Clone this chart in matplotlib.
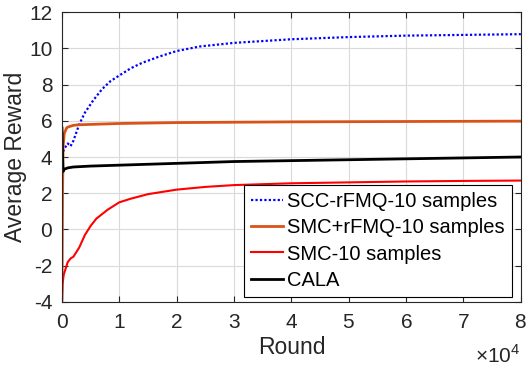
import matplotlib
matplotlib.use("Agg")
import matplotlib.pyplot as plt
from matplotlib.ticker import ScalarFormatter

plt.rcParams['font.family'] = ['Liberation Sans', 'DejaVu Sans']
plt.rcParams['mathtext.fontset'] = 'custom'
plt.rcParams['mathtext.rm'] = 'Liberation Sans'
plt.rcParams['axes.unicode_minus'] = False

# ---- data (rounds, average reward) ----
scc_x = [200, 500, 1000, 1500, 2000, 3000, 4000, 5500, 7000, 8500, 10000, 12000, 14000,
         17000, 20000, 24000, 30000, 35000, 40000, 50000, 60000, 70000, 80000]
scc_y = [4.3, 4.5, 4.75, 4.6, 4.9, 5.8, 6.45, 7.15, 7.75, 8.2, 8.5, 8.9, 9.2,
         9.55, 9.85, 10.1, 10.3, 10.4, 10.5, 10.62, 10.7, 10.74, 10.78]

smcr_x = [0, 50, 100, 200, 400, 800, 1000, 1500, 2000, 3000, 5000, 10000, 20000,
          30000, 40000, 50000, 60000, 70000, 80000]
smcr_y = [-3.9, -1.0, 2.0, 4.6, 5.3, 5.6, 5.65, 5.7, 5.75, 5.78, 5.8, 5.85, 5.9,
          5.92, 5.94, 5.95, 5.96, 5.97, 5.98]

smc_x = [0, 100, 300, 600, 1000, 1500, 2000, 3000, 4000, 5000, 6000, 8000, 10000,
         12000, 15000, 20000, 25000, 30000, 40000, 50000, 60000, 70000, 80000]
smc_y = [-3.9, -3.0, -2.5, -2.2, -1.8, -1.6, -1.5, -1.0, -0.3, 0.2, 0.6, 1.1, 1.5,
         1.7, 1.95, 2.2, 2.35, 2.45, 2.55, 2.6, 2.65, 2.68, 2.7]

cala_x = [0, 100, 200, 300, 600, 1000, 2000, 5000, 10000, 20000, 30000, 40000,
          50000, 60000, 70000, 80000]
cala_y = [5.6, 4.0, 3.2, 3.3, 3.35, 3.4, 3.45, 3.5, 3.55, 3.65, 3.75, 3.8,
          3.85, 3.9, 3.95, 4.0]

labels = ['SCC-rFMQ-10 samples', 'SMC+rFMQ-10 samples', 'SMC-10 samples', 'CALA']
xticks = [0, 10000, 20000, 30000, 40000, 50000, 60000, 70000, 80000]
yticks = [-4, -2, 0, 2, 4, 6, 8, 10, 12]

fig = plt.figure(figsize=(5.32, 3.66), dpi=100)
ax = fig.add_axes([0.1165, 0.175, 0.8625, 0.792])

ax.plot(scc_x, scc_y, color='#0000FF', linestyle=(0, (1, 1)), linewidth=1.6, label=labels[0])
ax.plot(smcr_x, smcr_y, color='#D95319', linestyle='-', linewidth=2.0, label=labels[1])
ax.plot(smc_x, smc_y, color='#FF0000', linestyle='-', linewidth=1.5, label=labels[2])
ax.plot(cala_x, cala_y, color='#000000', linestyle='-', linewidth=2.0, label=labels[3])

ax.set_xlim(0, 80000)
ax.set_ylim(-4, 12)
ax.set_xticks(xticks)
ax.set_yticks(yticks)

fmt = ScalarFormatter(useMathText=True)
fmt.set_powerlimits((0, 0))
ax.xaxis.set_major_formatter(fmt)
ax.xaxis.get_offset_text().set_visible(False)
ax.text(1.0, -0.145, r'$\times$10$^{4}$', transform=ax.transAxes, ha='right', va='top',
        fontsize=15, color='#262626')

ax.grid(True, color='#DADADA', linewidth=0.8)
ax.set_axisbelow(True)
ax.tick_params(direction='in', length=4, width=0.8, labelsize=15, top=True, right=True,
               colors='#262626', labelcolor='#262626')
ax.tick_params(axis='x', pad=8)
ax.tick_params(axis='y', pad=7)
for s in ax.spines.values():
    s.set_linewidth(0.8)
    s.set_color('#262626')

ax.set_xlabel('Round', fontsize=16.5, color='#262626', labelpad=3)
ax.set_ylabel('Average Reward', fontsize=16.5, color='#262626', labelpad=1)

leg = ax.legend(loc='lower right', bbox_to_anchor=(0.98, 0.017), fontsize=14.5,
                frameon=True, fancybox=False, edgecolor='black', framealpha=1,
                handlelength=1.6, handletextpad=0.2, borderpad=0.35, labelspacing=0.37,
                borderaxespad=0)
leg.get_frame().set_linewidth(0.8)

fig.savefig('out.png', dpi=100)
